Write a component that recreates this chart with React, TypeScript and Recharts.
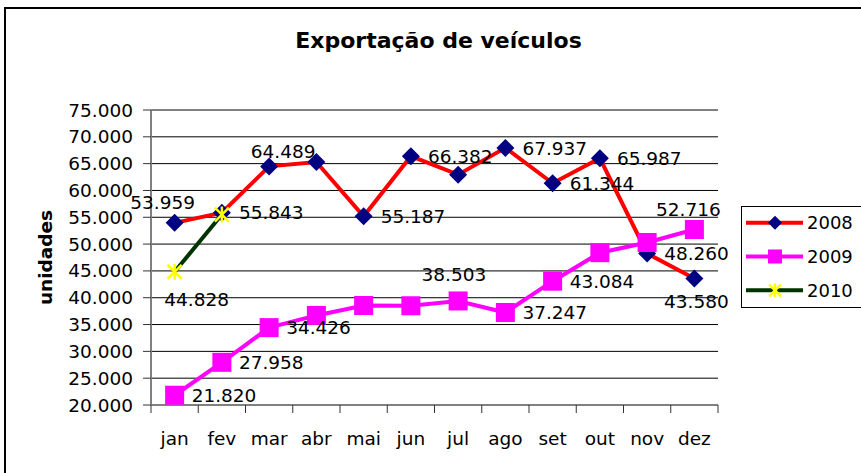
import {
  CartesianGrid,
  LabelList,
  Legend,
  Line,
  LineChart,
  XAxis,
  YAxis,
} from "recharts";

const months = ["jan", "fev", "mar", "abr", "mai", "jun", "jul", "ago", "set", "out", "nov", "dez"];
const exports2008 = [53959, 55843, 64489, 65300, 55187, 66382, 62950, 67937, 61344, 65987, 48260, 43580];
const exports2009 = [21820, 27958, 34426, 36700, 38550, 38503, 39400, 37247, 43084, 48400, 50300, 52716];
const exports2010 = [44828, 55500, null, null, null, null, null, null, null, null, null, null];
const yTicks = [20000, 25000, 30000, 35000, 40000, 45000, 50000, 55000, 60000, 65000, 70000, 75000];

const rows = months.map((m, i) => ({
  month: m,
  y2008: exports2008[i],
  y2009: exports2009[i],
  y2010: exports2010[i],
}));

// label placement (Excel had some labels dragged / deleted)
type Place = { anchor: "start" | "middle"; dx: number; dy: number } | null;
const R: Place = { anchor: "start", dx: 17, dy: 0 };
const place2008: Place[] = [
  { anchor: "middle", dx: -12, dy: -21 }, R, { anchor: "middle", dx: 14, dy: -15.5 }, null,
  R, R, null, R, R, R, R, { anchor: "middle", dx: 2, dy: 23 },
];
const place2009: Place[] = [
  R, R, R, null, null, { anchor: "middle", dx: 43, dy: -31 }, null, R, R, null, null,
  { anchor: "middle", dx: -6, dy: -20 },
];
const place2010: Place[] = [{ anchor: "middle", dx: 22, dy: 27.5 }, null];

const FONT = '"DejaVu Sans", sans-serif';
const FS = 18.5;
const W = 861;
const H = 473;
const PLOT_LEFT = 151;
const PLOT_RIGHT = 718;
const PLOT_BOTTOM = 405;
const BAND = (PLOT_RIGHT - PLOT_LEFT) / months.length;

const fmt = (v: number) => String(Math.round(v)).replace(/\B(?=(\d{3})+(?!\d))/g, ".");

const Diamond = ({ cx, cy, r = 9 }: { cx: number; cy: number; r?: number }) => (
  <polygon points={`${cx},${cy - r} ${cx + r},${cy} ${cx},${cy + r} ${cx - r},${cy}`} fill="#000080" />
);
const Square = ({ cx, cy, s = 19 }: { cx: number; cy: number; s?: number }) => (
  <rect x={cx - s / 2} y={cy - s / 2} width={s} height={s} fill="#FF00FF" />
);
const Star = ({ cx, cy, r = 7 }: { cx: number; cy: number; r?: number }) => (
  <g stroke="#FFFF00" strokeWidth={2.5}>
    <line x1={cx - r} y1={cy - r} x2={cx + r} y2={cy + r} />
    <line x1={cx - r} y1={cy + r} x2={cx + r} y2={cy - r} />
    <line x1={cx} y1={cy - r - 1} x2={cx} y2={cy + r + 1} />
  </g>
);

const dotOf = (Shape: any) => (p: any) =>
  p.cx == null || p.cy == null || p.value == null ? (
    <g key={p.index} />
  ) : (
    <Shape key={p.index} cx={p.cx} cy={p.cy} />
  );

const labelOf = (places: Place[]) => (p: any) => {
  const pl = places[p.index];
  if (!pl || p.value == null) return null;
  const x = p.x ?? p.viewBox?.x;
  const y = p.y ?? p.viewBox?.y;
  return (
    <text
      key={p.index}
      x={x + pl.dx}
      y={y + pl.dy}
      dy="0.36em"
      textAnchor={pl.anchor}
      fontSize={FS}
      fontFamily={FONT}
      fill="#000"
    >
      {fmt(p.value)}
    </text>
  );
};

const MonthTick = (props: any) => {
  const { x, y, payload, index } = props;
  return (
    <g>
      <line x1={x - BAND / 2} y1={y} x2={x - BAND / 2} y2={y + 8} stroke="#333" />
      {index === months.length - 1 && (
        <line x1={x + BAND / 2} y1={y} x2={x + BAND / 2} y2={y + 8} stroke="#333" />
      )}
      <text x={x} y={y + 39.5} textAnchor="middle" fontSize={FS} fontFamily={FONT} fill="#000">
        {payload.value}
      </text>
    </g>
  );
};

const legendItems = [
  { name: "2008", color: "#FF0000" },
  { name: "2009", color: "#FF00FF" },
  { name: "2010", color: "#003300" },
];

const LegendBox = () => (
  <svg width={120} height={103} style={{ display: "block" }}>
    <rect x={0.5} y={0.5} width={130} height={101} fill="#fff" stroke="#000" />
    {legendItems.map((it, i) => {
      const cy = 16.7 + i * 33.8;
      return (
        <g key={it.name}>
          <line x1={5} y1={cy} x2={62} y2={cy} stroke={it.color} strokeWidth={4} />
          {i === 0 && <Diamond cx={34} cy={cy} r={7} />}
          {i === 1 && <Square cx={34} cy={cy} s={14} />}
          {i === 2 && <Star cx={34} cy={cy} r={6} />}
          <text x={66} y={cy} dy="0.36em" fontSize={18} fontFamily={FONT} fill="#000">
            {it.name}
          </text>
        </g>
      );
    })}
  </svg>
);

export default function App() {
  return (
    <div
      style={{
        position: "absolute",
        left: 0,
        top: 0,
        width: W,
        height: H,
        overflow: "hidden",
        background: "#fff",
        fontFamily: FONT,
      }}
    >
      <div
        style={{
          position: "absolute",
          left: 4,
          top: 7,
          width: W + 20,
          height: H + 20,
          borderLeft: "2px solid #000",
          borderTop: "2px solid #000",
        }}
      />
      <div
        style={{
          position: "absolute",
          left: 8,
          top: 30,
          width: W,
          textAlign: "center",
          fontSize: 22,
          lineHeight: "22px",
          fontWeight: "bold",
          color: "#000",
        }}
      >
        Exportação de veículos
      </div>
      <div style={{ position: "absolute", left: 0, top: 0 }}>
        <LineChart
          width={W}
          height={H}
          data={rows}
          margin={{ top: 110, right: W - PLOT_RIGHT, bottom: 0, left: 0 }}
        >
          <CartesianGrid vertical={false} stroke="#000" strokeWidth={1} />
          <XAxis
            dataKey="month"
            height={H - PLOT_BOTTOM}
            interval={0}
            padding={{ left: BAND / 2, right: BAND / 2 }}
            tickSize={0}
            tickMargin={0}
            tickLine={false}
            tick={<MonthTick />}
            axisLine={{ stroke: "#808080", strokeWidth: 2 }}
          />
          <XAxis
            xAxisId="top"
            dataKey="month"
            orientation="top"
            height={0}
            tick={false}
            tickLine={false}
            axisLine={{ stroke: "#808080", strokeWidth: 2 }}
          />
          <YAxis
            domain={[20000, 75000]}
            ticks={yTicks}
            interval={0}
            width={PLOT_LEFT}
            tickSize={8}
            tickMargin={10}
            tickFormatter={fmt}
            tick={{ fill: "#000", fontSize: FS, fontFamily: FONT }}
            tickLine={{ stroke: "#333" }}
            axisLine={{ stroke: "#808080", strokeWidth: 2 }}
            allowDataOverflow
            label={{
              value: "unidades",
              angle: -90,
              position: "center",
              dx: -30,
              style: { fontSize: FS, fontWeight: "bold", fill: "#000", fontFamily: FONT },
            }}
          />
          <YAxis
            yAxisId="right"
            orientation="right"
            width={0}
            domain={[20000, 75000]}
            tick={false}
            tickLine={false}
            axisLine={{ stroke: "#808080", strokeWidth: 2 }}
          />
          <Legend
            layout="vertical"
            align="center"
            verticalAlign="middle"
            wrapperStyle={{ left: 741, top: 206, width: 120, height: 103 }}
            content={() => <LegendBox />}
          />
          <Line
            type="linear"
            dataKey="y2008"
            stroke="#FF0000"
            strokeWidth={4}
            dot={dotOf(Diamond)}
            activeDot={false}
            isAnimationActive={false}
          />
          <Line
            type="linear"
            dataKey="y2009"
            stroke="#FF00FF"
            strokeWidth={4}
            dot={dotOf(Square)}
            activeDot={false}
            isAnimationActive={false}
          />
          <Line
            type="linear"
            dataKey="y2010"
            stroke="#003300"
            strokeWidth={4}
            dot={dotOf(Star)}
            activeDot={false}
            isAnimationActive={false}
          />
          {/* data labels on top of all series, like Excel */}
          <Line dataKey="y2008" stroke="none" dot={false} activeDot={false} legendType="none" isAnimationActive={false}>
            <LabelList dataKey="y2008" content={labelOf(place2008)} />
          </Line>
          <Line dataKey="y2009" stroke="none" dot={false} activeDot={false} legendType="none" isAnimationActive={false}>
            <LabelList dataKey="y2009" content={labelOf(place2009)} />
          </Line>
          <Line dataKey="y2010" stroke="none" dot={false} activeDot={false} legendType="none" isAnimationActive={false}>
            <LabelList dataKey="y2010" content={labelOf(place2010)} />
          </Line>
        </LineChart>
      </div>
    </div>
  );
}
